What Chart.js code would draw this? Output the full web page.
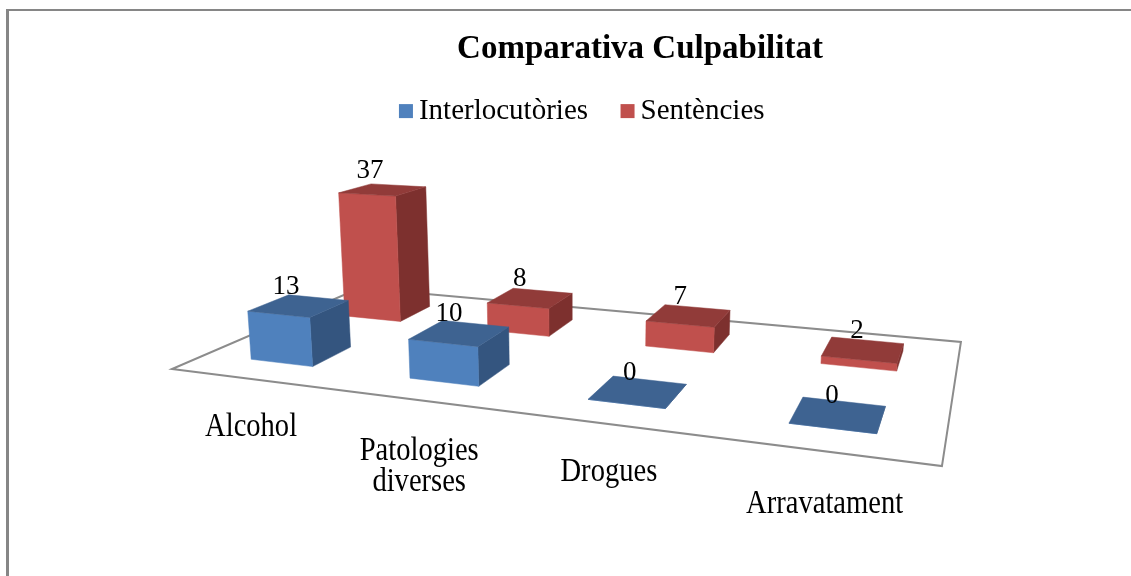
<!DOCTYPE html>
<html>
<head>
<meta charset="utf-8">
<title>Comparativa Culpabilitat</title>
<script src="https://cdn.jsdelivr.net/npm/chart.js@4/dist/chart.umd.min.js"></script>
<style>
  html, body { margin: 0; background: #fff; overflow: hidden; }
  #frame { position: absolute; left: 6px; top: 9px; right: 0; bottom: 0; border-left: 3px solid #868686; border-top: 2px solid #868686; }
  #chart { position: absolute; left: 0; top: 0; }
</style>
</head>
<body>
<div id="frame"></div>
<canvas id="chart" width="1131" height="576"></canvas>
<script>
const categories = ["Alcohol", ["Patologies", "diverses"], "Drogues", "Arravatament"];
const interlocutories = [13, 10, 0, 0];
const sentencies = [37, 8, 7, 2];

// front, side, top
const blueFaces = ["#4F81BD", "#34557F", "#3E6391"];
const redFaces = ["#C0504D", "#7D302E", "#913B39"];

const FONT = "'Liberation Serif'";

// floor of the 3D box: (u,v) -> screen, fitted on the corners of the floor in the picture
const H = { a: 561.5, b: 291.7, c: 172, d: -6.1, e: 2, f: 369, g: -0.2213, h: 0.2882 };
// vertical lines converge on this point, lift = how fast a full-scale bar rises
const VP = { x: 580, y: 5000 };
const lift = -0.0324;
const floorCorners = [[0, 0], [1, 0], [1, 1], [0, 1]];
// extra drop of each category label under the floor
const labelDrop = [0, 3, 0, 5];

function project(u, v, z) {
  const t = z * lift;
  const X = H.a * u + H.b * v + H.c + t * VP.x;
  const Y = H.d * u + H.e * v + H.f + t * VP.y;
  const W = H.g * u + H.h * v + 1 + t;
  return { x: X / W, y: Y / W };
}

function poly(ctx, pts, color) {
  ctx.beginPath();
  pts.forEach((p, i) => (i ? ctx.lineTo(p.x, p.y) : ctx.moveTo(p.x, p.y)));
  ctx.closePath();
  ctx.fillStyle = color;
  ctx.fill();
  ctx.strokeStyle = color;
  ctx.lineWidth = 0.5;
  ctx.stroke();
}

// bar element -> u range, row -> v range, value -> z through the y scale
function boxOf(chart, datasetIndex, index) {
  const area = chart.chartArea;
  const bar = chart.getDatasetMeta(datasetIndex).data[index];
  const y = chart.scales.y;
  const u = (bar.x - area.left) / area.width;
  const du = bar.width / area.width / 2;
  const row = (datasetIndex + 0.5) / chart.data.datasets.length;
  const dv = 0.1;
  const z = (y.getPixelForValue(0) - bar.y) / area.height;
  return { u, v: row, u0: u - du, u1: u + du, v0: row - dv, v1: row + dv, z };
}

const box3d = {
  id: "box3d",
  afterLayout(chart) {
    // title and legend do not share an axis in the picture
    chart.titleBlock.left += 55.5;
    chart.titleBlock.right += 55.5;
    chart.legend.top -= 11;
    chart.legend.bottom -= 11;
  },
  beforeDatasetsDraw(chart) {
    const ctx = chart.ctx;
    ctx.save();
    ctx.beginPath();
    floorCorners.forEach((c, i) => {
      const p = project(c[0], c[1], 0);
      if (i) ctx.lineTo(p.x, p.y); else ctx.moveTo(p.x, p.y);
    });
    ctx.closePath();
    ctx.strokeStyle = "#8c8c8c";
    ctx.lineWidth = 2;
    ctx.stroke();
    ctx.restore();
  },
  beforeDatasetDraw(chart, args) {
    const ctx = chart.ctx;
    const faces = chart.data.datasets[args.index].faces;
    ctx.save();
    args.meta.data.forEach((bar, i) => {
      const b = boxOf(chart, args.index, i);
      poly(ctx, [project(b.u1, b.v0, 0), project(b.u1, b.v1, 0), project(b.u1, b.v1, b.z), project(b.u1, b.v0, b.z)], faces[1]);
      poly(ctx, [project(b.u0, b.v0, 0), project(b.u1, b.v0, 0), project(b.u1, b.v0, b.z), project(b.u0, b.v0, b.z)], faces[0]);
      poly(ctx, [project(b.u0, b.v0, b.z), project(b.u1, b.v0, b.z), project(b.u1, b.v1, b.z), project(b.u0, b.v1, b.z)], faces[2]);
    });
    ctx.restore();
    return false;
  },
  afterDatasetsDraw(chart) {
    const ctx = chart.ctx;
    ctx.save();
    ctx.fillStyle = "#000";
    ctx.textAlign = "center";
    ctx.textBaseline = "middle";
    ctx.font = "27px " + FONT;
    // value labels
    chart.data.datasets.forEach((ds, d) => {
      ds.data.forEach((val, i) => {
        const b = boxOf(chart, d, i);
        const p = project(b.u, b.v, b.z);
        ctx.fillText(String(val), p.x - 14 + 9 * b.u, p.y - 19);
      });
    });
    // category labels, under the front edge of the floor (squeezed like the original)
    ctx.font = "34px " + FONT;
    const x = chart.scales.x;
    const area = chart.chartArea;
    chart.data.labels.forEach((label, i) => {
      const u = (x.getPixelForValue(i) - area.left) / area.width;
      const p = project(u, 0, 0);
      [].concat(label).forEach((line, k) => {
        ctx.save();
        ctx.translate(p.x + 2, p.y + 48 + labelDrop[i] + k * 31);
        ctx.scale(0.84, 1);
        ctx.fillText(line, 0, 0);
        ctx.restore();
      });
    });
    ctx.restore();
  },
  afterDraw(chart) {
    // legend squares sit closer to the text than chart.js would put them
    const ctx = chart.ctx;
    const lg = chart.legend;
    lg.legendItems.forEach((item, i) => {
      const hb = lg.legendHitBoxes[i];
      ctx.fillStyle = item.fillStyle;
      ctx.fillRect(hb.left - 5.5, hb.top + hb.height / 2 - 7, 14, 14);
    });
  }
};

new Chart(document.getElementById("chart"), {
  type: "bar",
  data: {
    labels: categories,
    datasets: [
      { label: "Interlocutòries", data: interlocutories, backgroundColor: blueFaces[0], faces: blueFaces },
      { label: "Sentències", data: sentencies, backgroundColor: redFaces[0], faces: redFaces }
    ]
  },
  options: {
    responsive: false,
    animation: false,
    layout: { padding: { left: 38, top: 22 } },
    datasets: { bar: { grouped: false, barPercentage: 0.4, categoryPercentage: 1 } },
    plugins: {
      title: {
        display: true,
        text: "Comparativa Culpabilitat",
        color: "#000",
        font: { family: FONT, size: 33, weight: "bold" },
        padding: { top: 8, bottom: 0 }
      },
      legend: {
        position: "top",
        labels: { color: "#000", boxWidth: 0, boxHeight: 0, padding: 38, font: { family: FONT, size: 29 } }
      },
      tooltip: { enabled: false }
    },
    scales: {
      x: { display: false },
      y: { display: false, min: 0, max: 40 }
    }
  },
  plugins: [box3d]
});
</script>
</body>
</html>
